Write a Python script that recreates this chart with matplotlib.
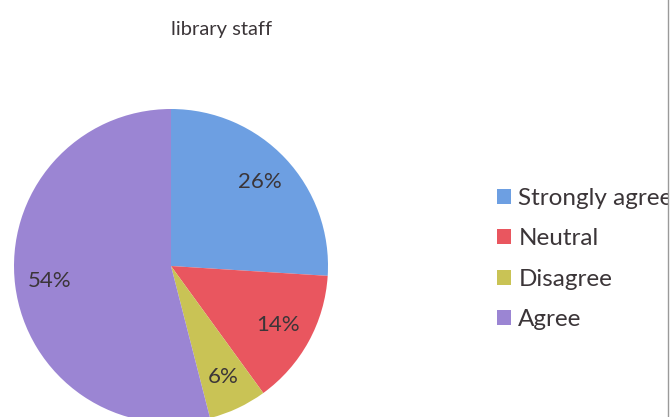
import matplotlib
matplotlib.use("Agg")
import matplotlib.pyplot as plt
from matplotlib.patches import Rectangle
from matplotlib.lines import Line2D

# Data
labels = ["Strongly agree", "Neutral", "Disagree", "Agree"]
shares = [26, 14, 6, 54]
colors = ["#6d9fe2", "#e9565f", "#c9c355", "#9b85d3"]
title = "library staff"

plt.rcParams["font.family"] = ["Lato", "DejaVu Sans"]
text_color = "#3b3538"

W, H = 671, 417
fig = plt.figure(figsize=(W / 100, H / 100), dpi=100)
fig.patch.set_facecolor("white")

# pie centre ~ (171, 266) px, radius ~157 px
cx, cy, r = 171, 266, 157
ax = fig.add_axes([(cx - r) / W, (H - cy - r) / H, 2 * r / W, 2 * r / H])
wedges, texts, autotexts = ax.pie(
    shares, colors=colors, startangle=90, counterclock=False,
    autopct="%d%%", pctdistance=0.78, radius=1,
    wedgeprops=dict(linewidth=0),
    textprops=dict(color=text_color, fontsize=16))
ax.set_xlim(-1, 1)
ax.set_ylim(-1, 1)
ax.set_aspect("equal")
ax.axis("off")

fig.text(222 / W, 1 - 30 / H, title, ha="center", va="center",
         fontsize=14.5, color=text_color)

leg = fig.legend(wedges, labels, loc="upper left",
                 bbox_to_anchor=(475 / W, 1 - 166 / H),
                 frameon=False, fontsize=17.5, handlelength=0.58,
                 handleheight=0.58, handletextpad=0.3, labelspacing=0.8,
                 labelcolor=text_color)

# right border of the scanned frame clips the legend text
fig.patches.append(Rectangle((669 / W, 0), 2 / W, 1, transform=fig.transFigure,
                             facecolor="white", edgecolor="none", zorder=10))
fig.add_artist(Line2D([668 / W, 668 / W], [0, 1], color="#9a9a9a",
                      linewidth=1, zorder=11))

fig.savefig("out.png", dpi=100)
